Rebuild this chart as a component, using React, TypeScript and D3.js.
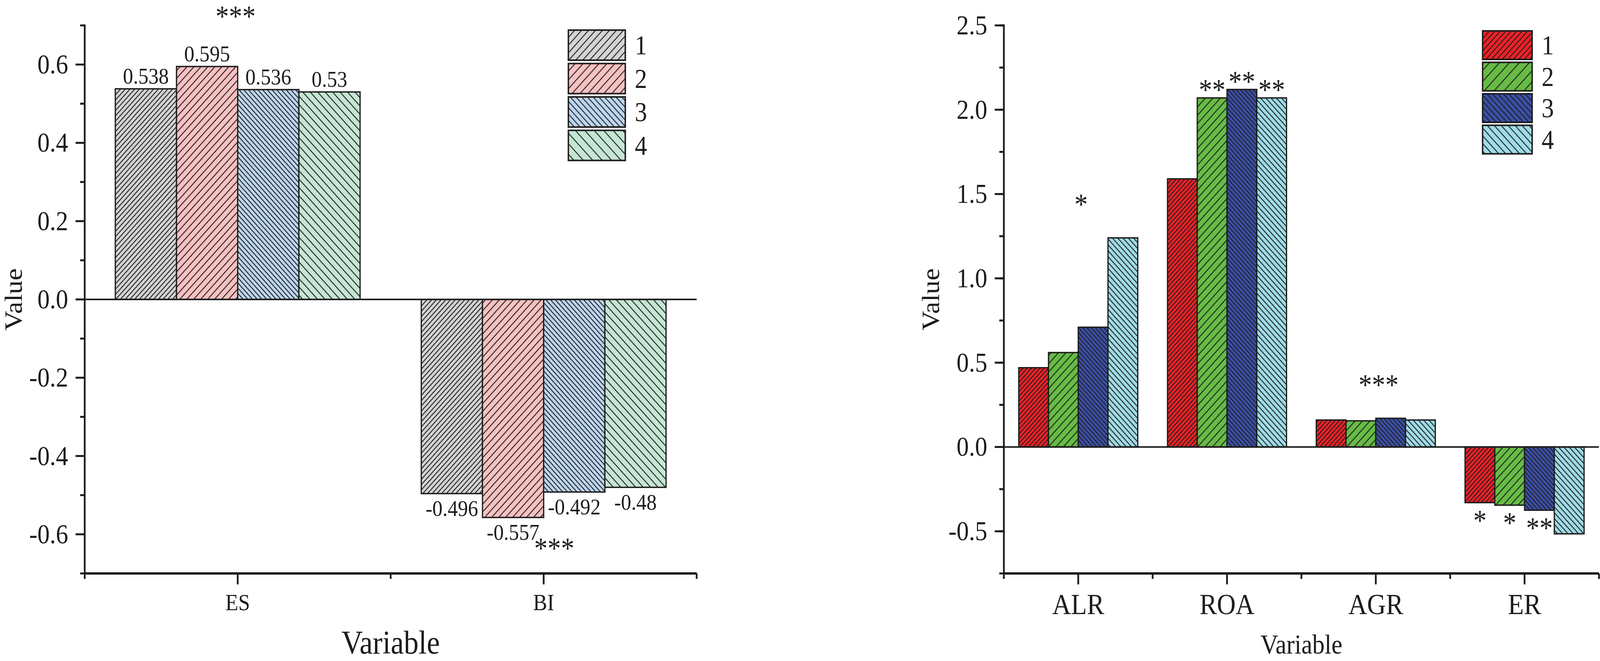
import * as d3 from 'd3';

// ---------- data ----------
const seriesNames = ['1', '2', '3', '4'];

const leftCategories = ['ES', 'BI'];
const leftValues = [
  [0.538, -0.496],
  [0.595, -0.557],
  [0.536, -0.492],
  [0.53, -0.48],
];
const leftYTicks = [-0.6, -0.4, -0.2, 0.0, 0.2, 0.4, 0.6];
const leftGroupSig = ['***', '***'];

const rightCategories = ['ALR', 'ROA', 'AGR', 'ER'];
const rightValues = [
  [0.47, 1.59, 0.16, -0.33],
  [0.56, 2.07, 0.155, -0.345],
  [0.71, 2.12, 0.17, -0.375],
  [1.24, 2.07, 0.16, -0.515],
];
const rightYTicks = [-0.5, 0.0, 0.5, 1.0, 1.5, 2.0, 2.5];
const rightGroupSig = ['*', '', '***', ''];
const rightBarSig = [
  ['', '', '', '*'],
  ['', '**', '', '*'],
  ['', '**', '', '**'],
  ['', '**', '', ''],
];

const FONT = "'Liberation Serif', 'Times New Roman', serif";
const INK = '#1c1c1c';

interface PanelProps {
  id: string;
  categories: string[];
  values: number[][];
  yTicks: number[];
  yDomain: [number, number];
  minorStep: number;
  xRange: [number, number];
  colors: string[];
  dirs: string[];
  barSpacing: number[];
  legSpacing: number[];
  valueLabels: boolean;
  groupSig: string[];
  barSig?: string[][];
  catFont: number;
  catBaseline: number;
  titleFont: number;
  valueX: number;
  legend: { x: number; y: number; w: number; h: number; step: number };
}

function Patterns({ id, colors, dirs, spacing }: { id: string; colors: string[]; dirs: string[]; spacing: number[] }) {
  return (
    <>
      {colors.map((c, i) => {
        const s = spacing[i];
        return (
          <pattern
            key={i}
            id={`${id}-${i}`}
            patternUnits="userSpaceOnUse"
            width={s}
            height={s}
            patternTransform={`rotate(${dirs[i] === '/' ? 45 : -45})`}
          >
            <rect width={s} height={s} fill={c} />
            <line x1={s / 2} y1={-1} x2={s / 2} y2={s + 1} stroke={INK} strokeWidth={2.4} />
          </pattern>
        );
      })}
    </>
  );
}

function Panel(p: PanelProps) {
  const n = p.categories.length;
  const x = d3.scaleLinear().domain([0.5, n + 0.5]).range(p.xRange);
  const y = d3.scaleLinear().domain(p.yDomain).range([1467, 65]);
  const bw = 0.2;
  const barX0 = (j: number, i: number) => j + 1 - 0.4 + i * bw;
  const barCx = (j: number, i: number) => (x(barX0(j, i)) + x(barX0(j, i) + bw)) / 2;

  const minorCount = Math.round((p.yDomain[1] - p.yDomain[0]) / p.minorStep);
  const minorY = d3.range(minorCount + 1).map(k => p.yDomain[0] + k * p.minorStep);
  const minorX = d3.range(n + 1).map(k => k + 0.5);
  const majorX = d3.range(1, n + 1);

  const x0 = p.xRange[0];
  const yb = y(p.yDomain[0]);
  const starFs = 76;

  return (
    <g>
      <defs>
        <Patterns id={`${p.id}-bar`} colors={p.colors} dirs={p.dirs} spacing={p.barSpacing} />
        <Patterns id={`${p.id}-leg`} colors={p.colors} dirs={p.dirs} spacing={p.legSpacing} />
      </defs>

      {/* bars */}
      {p.values.map((row, i) =>
        row.map((v, j) => (
          <rect
            key={`${i}-${j}`}
            x={x(barX0(j, i))}
            width={x(barX0(j, i) + bw) - x(barX0(j, i))}
            y={y(Math.max(v, 0))}
            height={Math.abs(y(v) - y(0))}
            fill={`url(#${p.id}-bar-${i})`}
            stroke={INK}
            strokeWidth={3.5}
          />
        ))
      )}

      {/* value labels */}
      {p.valueLabels &&
        p.values.map((row, i) =>
          row.map((v, j) => (
            <text
              key={`v${i}-${j}`}
              x={barCx(j, i)}
              y={v >= 0 ? y(v) - 13 : y(v) + 57}
              textAnchor="middle"
              fontSize={58}
              fontFamily={FONT}
              fill={INK}
            >
              {String(v)}
            </text>
          ))
        )}

      {/* zero line */}
      <line x1={x0} x2={p.xRange[1]} y1={y(0)} y2={y(0)} stroke={INK} strokeWidth={4} />

      {/* y axis */}
      <line x1={x0} x2={x0} y1={y(p.yDomain[1])} y2={yb} stroke={INK} strokeWidth={5} strokeLinecap="square" />
      {minorY.map((t, k) => (
        <line key={`my${k}`} x1={x0 - 13} x2={x0} y1={y(t)} y2={y(t)} stroke={INK} strokeWidth={5} />
      ))}
      {p.yTicks.map(t => (
        <g key={`y${t}`}>
          <line x1={x0 - 26} x2={x0} y1={y(t)} y2={y(t)} stroke={INK} strokeWidth={5} />
          <text x={x0 - 47} y={y(t) + 23} textAnchor="end" fontSize={70} fontFamily={FONT} fill={INK}>
            {t.toFixed(1)}
          </text>
        </g>
      ))}

      {/* x axis */}
      <line x1={x0} x2={p.xRange[1]} y1={yb} y2={yb} stroke={INK} strokeWidth={6} />
      {minorX.map(t => (
        <line key={`mx${t}`} x1={x(t)} x2={x(t)} y1={yb} y2={yb + 14} stroke={INK} strokeWidth={5} />
      ))}
      {majorX.map((t, j) => (
        <g key={`x${t}`}>
          <line x1={x(t)} x2={x(t)} y1={yb} y2={yb + 28} stroke={INK} strokeWidth={5} />
          <text x={x(t)} y={p.catBaseline} textAnchor="middle" fontSize={p.catFont} fontFamily={FONT} fill={INK}>
            {p.categories[j]}
          </text>
        </g>
      ))}

      {/* axis titles */}
      <text
        transform={`translate(${p.valueX},${(y(p.yDomain[0]) + y(p.yDomain[1])) / 2}) rotate(-90)`}
        textAnchor="middle"
        fontSize={70}
        fontFamily={FONT}
        fill={INK}
      >
        Value
      </text>
      <text
        x={(p.xRange[0] + p.xRange[1]) / 2}
        y={1672}
        textAnchor="middle"
        fontSize={p.titleFont}
        fontFamily={FONT}
        fill={INK}
      >
        Variable
      </text>

      {/* significance marks per group */}
      {p.groupSig.map((s, j) => {
        if (!s) return null;
        const col = p.values.map(r => r[j]);
        const positive = d3.sum(col) >= 0;
        let cx: number;
        let cy: number;
        if (p.valueLabels) {
          if (positive) {
            cx = x(j + 1) - 6;
            cy = y(d3.max(col) as number) - 138;
          } else {
            cx = x(j + 1) + 30;
            cy = y(d3.min(col) as number) + 69;
          }
        } else {
          cx = x(j + 1) + 8;
          cy = positive ? y(d3.max(col) as number) - 95 : y(d3.min(col) as number) + 95;
        }
        return (
          <text key={`gs${j}`} x={cx} y={cy + starFs * 0.46} textAnchor="middle" fontSize={starFs} fontFamily={FONT} fill={INK}>
            {s}
          </text>
        );
      })}

      {/* significance marks per bar */}
      {p.barSig &&
        p.barSig.map((row, i) =>
          row.map((s, j) => {
            if (!s) return null;
            const v = p.values[i][j];
            const cy = v >= 0 ? y(v) - 30 : y(v) + 36;
            return (
              <text key={`bs${i}-${j}`} x={barCx(j, i)} y={cy + starFs * 0.46} textAnchor="middle" fontSize={starFs} fontFamily={FONT} fill={INK}>
                {s}
              </text>
            );
          })
        )}

      {/* legend */}
      {seriesNames.map((name, i) => {
        const ly = p.legend.y + i * p.legend.step;
        return (
          <g key={`lg${i}`}>
            <rect
              x={p.legend.x}
              y={ly}
              width={p.legend.w}
              height={p.legend.h}
              fill={`url(#${p.id}-leg-${i})`}
              stroke={INK}
              strokeWidth={4}
            />
            <text x={p.legend.x + p.legend.w + 27} y={ly + p.legend.h / 2 + 24} fontSize={70} fontFamily={FONT} fill={INK}>
              {name}
            </text>
          </g>
        );
      })}
    </g>
  );
}

export default function App() {
  return (
    <svg
      viewBox="0 0 4552 1691"
      preserveAspectRatio="none"
      style={{ position: 'fixed', left: 0, top: 0, width: '100vw', height: '100vh', display: 'block', background: '#fff' }}
    >
      <rect width={4552} height={1691} fill="#fff" />
      <Panel
        id="left"
        categories={leftCategories}
        values={leftValues}
        yTicks={leftYTicks}
        yDomain={[-0.7, 0.7]}
        minorStep={0.2}
        xRange={[241, 1982]}
        colors={['#d4d4d4', '#f8c1c1', '#bdd6ef', '#c5e6d4']}
        dirs={['/', '/', '\\', '\\']}
        barSpacing={[9.5, 14, 9.5, 15]}
        legSpacing={[14, 16, 11.5, 19]}
        valueLabels={true}
        groupSig={leftGroupSig}
        catFont={60}
        catBaseline={1561}
        titleFont={84}
        valueX={62}
        legend={{ x: 1617, y: 77, w: 162, h: 77, step: 85.5 }}
      />
      <Panel
        id="right"
        categories={rightCategories}
        values={rightValues}
        yTicks={rightYTicks}
        yDomain={[-0.75, 2.5]}
        minorStep={0.25}
        xRange={[2856, 4549]}
        colors={['#ec2227', '#67bb45', '#3b4fa5', '#9fdbe7']}
        dirs={['/', '/', '\\', '\\']}
        barSpacing={[8.5, 15, 8.5, 10.6]}
        legSpacing={[11, 20, 11, 14]}
        valueLabels={false}
        groupSig={rightGroupSig}
        barSig={rightBarSig}
        catFont={74}
        catBaseline={1571}
        titleFont={70}
        valueX={2672}
        legend={{ x: 4218, y: 79, w: 141, h: 73, step: 80.5 }}
      />
    </svg>
  );
}
